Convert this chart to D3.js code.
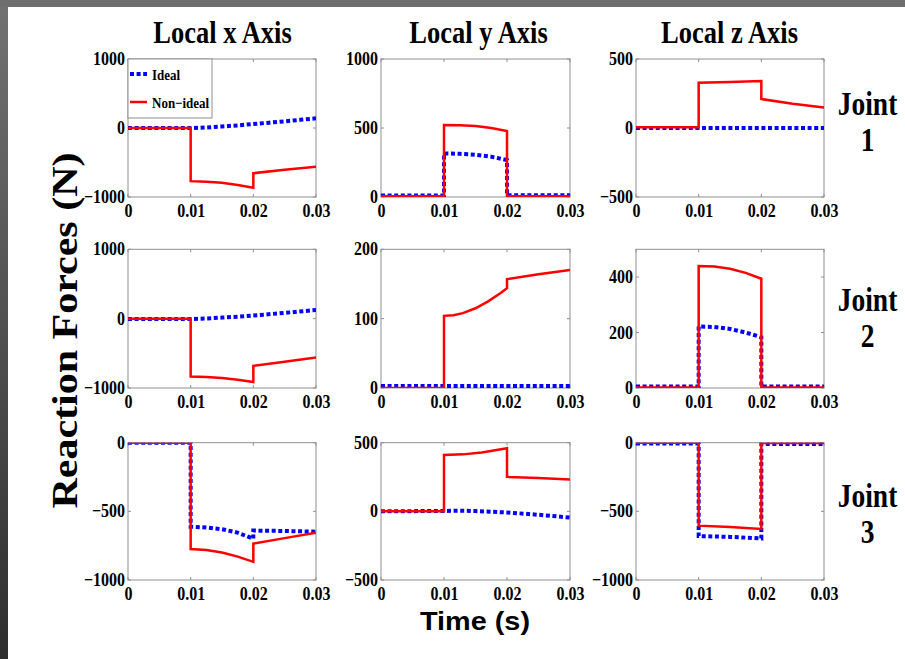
<!DOCTYPE html>
<html><head><meta charset="utf-8">
<script src="https://cdn.jsdelivr.net/npm/d3@7"></script>
<style>
html,body{margin:0;padding:0;background:#fff;}
svg{display:block;}
</style></head>
<body>
<svg id="chart" width="905" height="659"></svg>
<script>
// ---------- DATA ----------
const columnTitles = ["Local x Axis", "Local y Axis", "Local z Axis"];
const jointLabels = ["1", "2", "3"];
const xTicks = [0, 0.01, 0.02, 0.03];
const seriesNames = ["Ideal", "Non\u2212ideal"];

const yDomains = [
  [[-1000, 1000], [0, 1000], [-500, 500]],
  [[-1000, 1000], [0, 200], [0, 500]],
  [[-1000, 0], [-500, 500], [-1000, 0]]
];
const yTicks = [
  [[-1000, 0, 1000], [0, 500, 1000], [-500, 0, 500]],
  [[-1000, 0, 1000], [0, 100, 200], [0, 200, 400]],
  [[-1000, -500, 0], [-500, 0, 500], [-1000, -500, 0]]
];

// Joint 1
const j1xIdeal = [[0,0],[0.01,0],[0.0125,8],[0.015,22],[0.0175,38],[0.02,58],[0.0225,77],[0.025,97],[0.0275,118],[0.03,140]];
const j1xNonIdeal = [[0,0],[0.01,0],[0.01,-770],[0.0125,-778],[0.015,-795],[0.0175,-825],[0.02,-865],[0.02,-655],[0.025,-605],[0.03,-560]];
const j1yIdeal = [[0,10],[0.01,10],[0.01,316],[0.0125,313],[0.015,306],[0.0175,292],[0.02,268],[0.02,12],[0.03,12]];
const j1yNonIdeal = [[0,5],[0.01,5],[0.01,522],[0.0125,520],[0.015,514],[0.0175,500],[0.02,478],[0.02,5],[0.03,5]];
const j1zIdeal = [[0,0],[0.01,0],[0.02,0],[0.03,0]];
const j1zNonIdeal = [[0,5],[0.01,5],[0.01,328],[0.015,334],[0.02,340],[0.02,210],[0.025,176],[0.03,148]];
// Joint 2
const j2xIdeal = [[0,-5],[0.01,-5],[0.0125,3],[0.015,15],[0.0175,28],[0.02,45],[0.025,83],[0.03,125]];
const j2xNonIdeal = [[0,0],[0.01,0],[0.01,-835],[0.0125,-843],[0.015,-857],[0.0175,-880],[0.02,-915],[0.02,-680],[0.025,-620],[0.03,-560]];
const j2yIdeal = [[0,3],[0.01,3],[0.02,3],[0.03,3]];
const j2yNonIdeal = [[0,0],[0.01,0],[0.01,104],[0.0115,105],[0.013,108],[0.015,115],[0.017,125],[0.019,137],[0.02,144],[0.02,157],[0.025,164],[0.03,170]];
const j2zIdeal = [[0,5],[0.01,5],[0.01,222],[0.0125,220],[0.015,213],[0.0175,200],[0.02,183],[0.02,5],[0.03,5]];
const j2zNonIdeal = [[0,2],[0.01,2],[0.01,440],[0.0125,438],[0.015,430],[0.0175,415],[0.02,394],[0.02,2],[0.03,2]];
// Joint 3
const j3xIdeal = [[0,0],[0.01,0],[0.01,-612],[0.0125,-618],[0.015,-630],[0.0175,-655],[0.02,-700],[0.02,-640],[0.025,-643],[0.03,-648]];
const j3xNonIdeal = [[0,0],[0.01,0],[0.01,-775],[0.0125,-782],[0.015,-800],[0.0175,-830],[0.02,-868],[0.02,-735],[0.025,-695],[0.03,-655]];
const j3yIdeal = [[0,0],[0.01,3],[0.0125,5],[0.015,2],[0.02,-8],[0.025,-25],[0.03,-45]];
const j3yNonIdeal = [[0,0],[0.01,0],[0.01,410],[0.013,415],[0.016,428],[0.02,460],[0.02,251],[0.025,242],[0.03,232]];
const j3zIdeal = [[0,-5],[0.01,-5],[0.01,-680],[0.015,-686],[0.02,-697],[0.02,-10],[0.03,-10]];
const j3zNonIdeal = [[0,0],[0.01,0],[0.01,-604],[0.015,-614],[0.02,-628],[0.02,-3],[0.03,-3]];

const idealSeries = [[j1xIdeal, j1yIdeal, j1zIdeal],[j2xIdeal, j2yIdeal, j2zIdeal],[j3xIdeal, j3yIdeal, j3zIdeal]];
const nonIdealSeries = [[j1xNonIdeal, j1yNonIdeal, j1zNonIdeal],[j2xNonIdeal, j2yNonIdeal, j2zNonIdeal],[j3xNonIdeal, j3yNonIdeal, j3zNonIdeal]];

// ---------- LAYOUT ----------
const colX = [[128, 316], [381, 570], [636, 824]];
const rowY = [[59, 197], [249.3, 388], [442.7, 580]];
const serif = "'Liberation Serif','Times New Roman',serif";
const sans = "'Liberation Sans',Arial,sans-serif";
const frameColor = "#8f8f8f";
const blue = "#0000ff", red = "#ff0000";
const SY = 1.15;

const svg = d3.select("#chart");

// background frame of the slide
svg.append("rect").attr("x",0).attr("y",0).attr("width",905).attr("height",659).attr("fill","#fff");
const grad = svg.append("defs").append("linearGradient").attr("id","lg").attr("x1",0).attr("y1",0).attr("x2",0).attr("y2",1);
grad.append("stop").attr("offset","0%").attr("stop-color","#727272");
grad.append("stop").attr("offset","100%").attr("stop-color","#2e2e2e");
svg.append("rect").attr("x",0).attr("y",0).attr("width",8).attr("height",659).attr("fill","url(#lg)");
svg.append("rect").attr("x",0).attr("y",0).attr("width",905).attr("height",7).attr("fill","#6e6e6e");

function stretchedText(sel, x, y, sy) {
  return sel.attr("transform", `translate(${x},${y}) scale(1,${sy})`).attr("x",0).attr("y",0);
}

for (let r = 0; r < 3; r++) {
  for (let c = 0; c < 3; c++) {
    const [x0, x1] = colX[c];
    const [y0, y1] = rowY[r];
    const xs = d3.scaleLinear().domain([0, 0.03]).range([x0, x1]);
    const ys = d3.scaleLinear().domain(yDomains[r][c]).range([y1, y0]);
    const g = svg.append("g");
    const clipId = `clip${r}${c}`;
    svg.select("defs").append("clipPath").attr("id", clipId)
      .append("rect").attr("x", x0).attr("y", y0).attr("width", x1 - x0).attr("height", y1 - y0);

    g.append("rect").attr("x", x0).attr("y", y0).attr("width", x1 - x0).attr("height", y1 - y0)
      .attr("fill", "#fff").attr("stroke", frameColor).attr("stroke-width", 1);

    // inner tick marks
    const tl = 3;
    xTicks.forEach(t => {
      g.append("line").attr("x1", xs(t)).attr("x2", xs(t)).attr("y1", y1).attr("y2", y1 - tl).attr("stroke", frameColor);
      g.append("line").attr("x1", xs(t)).attr("x2", xs(t)).attr("y1", y0).attr("y2", y0 + tl).attr("stroke", frameColor);
    });
    yTicks[r][c].forEach(t => {
      g.append("line").attr("x1", x0).attr("x2", x0 + tl).attr("y1", ys(t)).attr("y2", ys(t)).attr("stroke", frameColor);
      g.append("line").attr("x1", x1).attr("x2", x1 - tl).attr("y1", ys(t)).attr("y2", ys(t)).attr("stroke", frameColor);
    });

    // axes (labels only)
    const xa = g.append("g").attr("transform", `translate(0,${y1})`)
      .call(d3.axisBottom(xs).tickValues(xTicks).tickSize(0).tickPadding(7).tickFormat(d => d === 0 ? "0" : d3.format(".2f")(d)));
    const ya = g.append("g").attr("transform", `translate(${x0},0)`)
      .call(d3.axisLeft(ys).tickValues(yTicks[r][c]).tickSize(0).tickPadding(3).tickFormat(d3.format("d")));
    [xa, ya].forEach(a => {
      a.select(".domain").remove();
      a.selectAll("text").attr("font-family", serif).attr("font-weight", "bold")
        .attr("font-size", 16).attr("fill", "#000");
    });
    xa.selectAll("text").each(function() {
      const t = d3.select(this);
      t.attr("dy", null).attr("y", null).attr("transform", `translate(0,19.5) scale(1,${SY})`);
    });
    ya.selectAll("text").each(function() {
      const t = d3.select(this);
      t.attr("dy", null).attr("transform", `translate(0,5.5) scale(1,${SY})`);
    });

    const line = d3.line().x(d => xs(d[0])).y(d => ys(d[1]));
    const lg = g.append("g").attr("clip-path", `url(#${clipId})`);
    lg.append("path").datum(idealSeries[r][c]).attr("d", line)
      .attr("fill", "none").attr("stroke", blue).attr("stroke-width", 4)
      .attr("stroke-dasharray", "4,2.6").attr("stroke-linejoin", "miter");
    lg.append("path").datum(nonIdealSeries[r][c]).attr("d", line)
      .attr("fill", "none").attr("stroke", red).attr("stroke-width", 2.5).attr("stroke-linejoin", "miter");
  }
}

// legend in first panel
const leg = svg.append("g");
leg.append("rect").attr("x", 128).attr("y", 59).attr("width", 84).attr("height", 59)
  .attr("fill", "#fff").attr("stroke", frameColor).attr("stroke-width", 1);
leg.append("line").attr("x1", 130).attr("x2", 147).attr("y1", 74).attr("y2", 74)
  .attr("stroke", blue).attr("stroke-width", 4).attr("stroke-dasharray", "4,2.6");
leg.append("line").attr("x1", 130).attr("x2", 147).attr("y1", 102).attr("y2", 102)
  .attr("stroke", red).attr("stroke-width", 2.5);
[[seriesNames[0], 80], [seriesNames[1], 108]].forEach(([txt, y]) => {
  stretchedText(leg.append("text"), 152, y, SY).text(txt)
    .attr("font-family", serif).attr("font-weight", "bold").attr("font-size", 13).attr("fill", "#000");
});

// column titles
const titleCenters = [222.5, 478.5, 729.5];
columnTitles.forEach((t, i) => {
  stretchedText(svg.append("text"), titleCenters[i], 43, 1.2).attr("text-anchor", "middle")
    .attr("font-family", serif).attr("font-weight", "bold").attr("font-size", 26.5)
    .attr("fill", "#000").text(t);
});

// joint labels
const jointBase = [115, 311, 507];
jointLabels.forEach((j, i) => {
  stretchedText(svg.append("text"), 867.5, jointBase[i], 1.25).attr("text-anchor", "middle")
    .attr("font-family", serif).attr("font-weight", "bold").attr("font-size", 27.5)
    .attr("fill", "#000").text("Joint");
  stretchedText(svg.append("text"), 867.5, jointBase[i] + 36, 1.25).attr("text-anchor", "middle")
    .attr("font-family", serif).attr("font-weight", "bold").attr("font-size", 27.5)
    .attr("fill", "#000").text(j);
});

// y axis label
svg.append("text").attr("transform", "translate(77,330.5) rotate(-90) scale(1.2,1)").attr("text-anchor", "middle")
  .attr("font-family", serif).attr("font-weight", "bold").attr("font-size", 35)
  .attr("fill", "#000")
  .text("Reaction Forces (N)");

// x axis label
svg.append("text").attr("x", 475).attr("y", 630).attr("text-anchor", "middle")
  .attr("font-family", sans).attr("font-weight", "bold").attr("font-size", 26)
  .attr("textLength", 110).attr("lengthAdjust", "spacingAndGlyphs").attr("fill", "#000")
  .text("Time (s)");
</script>
</body></html>
